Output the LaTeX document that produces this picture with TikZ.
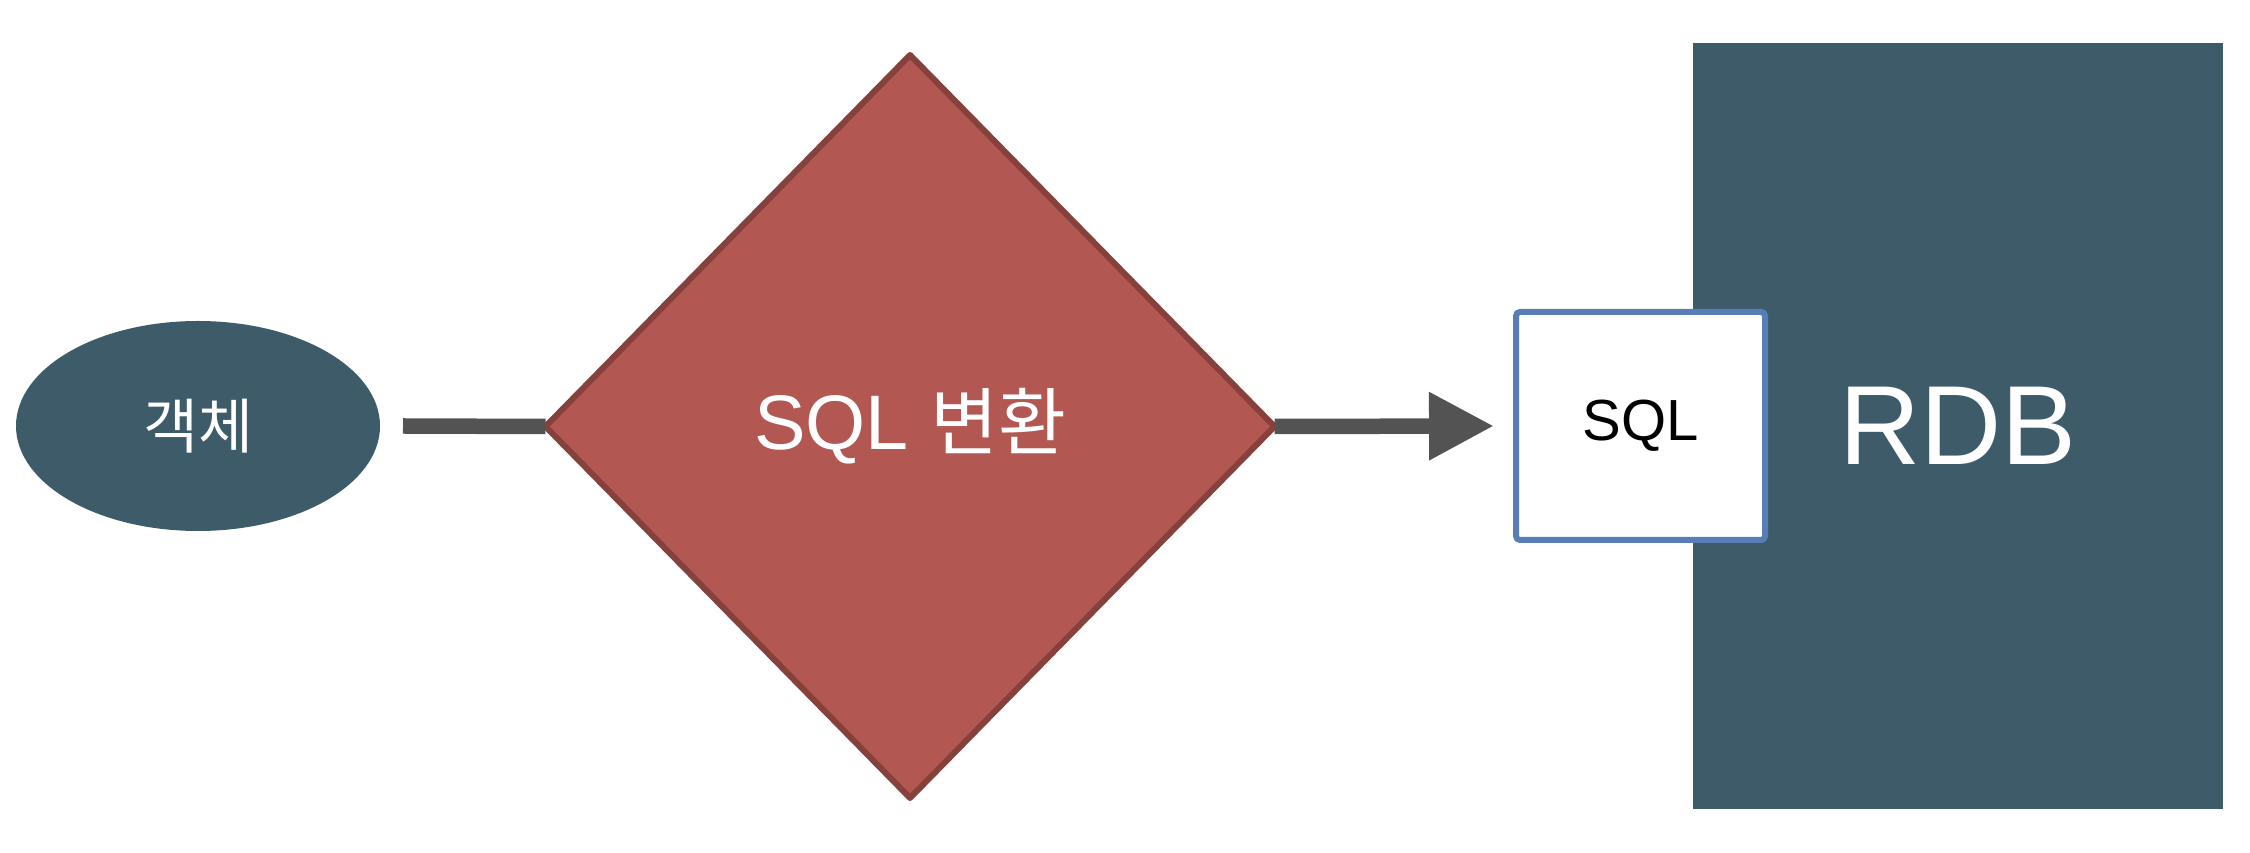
\documentclass[tikz,border=0pt]{standalone}
\usepackage{fontspec}
\setmainfont{Liberation Sans}
\newfontfamily\kr{Noto Sans CJK KR}
\usetikzlibrary{shapes.geometric,arrows.meta}
\definecolor{slate}{RGB}{61,91,105}
\definecolor{brick}{RGB}{178,87,81}
\definecolor{brickdark}{RGB}{134,65,61}
\definecolor{boxblue}{RGB}{88,126,184}
\definecolor{conngray}{RGB}{83,83,83}
\tikzset{
  objnode/.style={ellipse, fill=slate, minimum width=3.64cm, minimum height=2.10cm, inner sep=0pt, outer sep=0pt, text=white},
  convnode/.style={diamond, fill=brick, draw=brickdark, line width=0.06cm, line join=round, minimum width=7.29cm, minimum height=7.43cm, inner sep=0pt, outer sep=0pt, text=white},
  dbnode/.style={rectangle, fill=slate, minimum width=5.30cm, minimum height=7.66cm, inner sep=0pt, outer sep=0pt, text=white},
  sqlnode/.style={rectangle, fill=white, draw=boxblue, line width=0.06cm, rounded corners=0.04cm, minimum width=2.49cm, minimum height=2.28cm, inner sep=0pt, outer sep=0pt, text=black},
  conn/.style={draw=conngray, line width=0.155cm},
  arrconn/.style={conn, -{Triangle[length=0.65cm, width=0.64cm]}}
}
\begin{document}
\begin{tikzpicture}
\useasboundingbox (0,0) rectangle (22.5,8.52);
\node[objnode] (obj) at (1.98,4.26) {\kr\fontsize{17pt}{20pt}\selectfont 객체};
\node[convnode] (conv) at (9.10,4.255) {\fontsize{22pt}{26pt}\selectfont SQL {\kr\fontsize{21pt}{24pt}\selectfont 변환}};
\node[dbnode] (db) at (19.58,4.26) {\raisebox{-0.05cm}{\fontsize{32pt}{36pt}\selectfont RDB}};
\node[sqlnode] (sql) at (16.405,4.26) {\raisebox{-0.03cm}{\fontsize{16.5pt}{20pt}\selectfont SQL}};
\draw[conn] ([xshift=0.23cm]obj.east) -- (conv.west);
\draw[arrconn] (conv.east) -- ([xshift=-0.22cm]sql.west);
\end{tikzpicture}
\end{document}
